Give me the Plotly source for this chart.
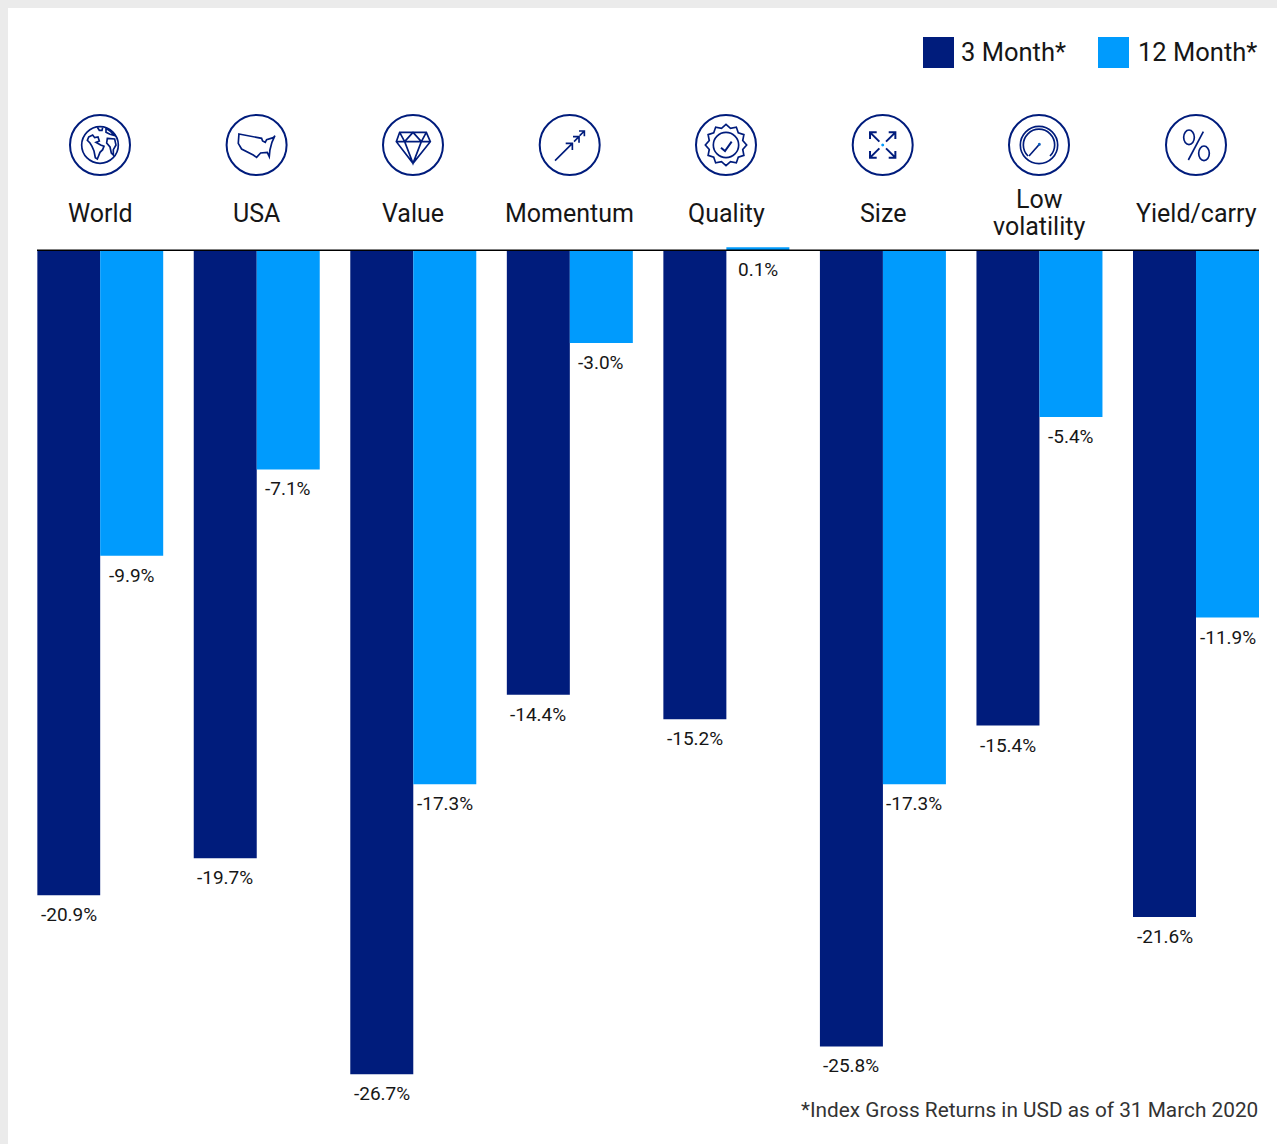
import base64
import math
import plotly.graph_objects as go

categories = ["World", "USA", "Value", "Momentum", "Quality", "Size", "Low volatility", "Yield/carry"]
category_lines = [["World"], ["USA"], ["Value"], ["Momentum"], ["Quality"], ["Size"], ["Low", "volatility"], ["Yield/carry"]]
series_3m = [-20.9, -19.7, -26.7, -14.4, -15.2, -25.8, -15.4, -21.6]
series_12m = [-9.9, -7.1, -17.3, -3.0, 0.1, -17.3, -5.4, -11.9]
series_names = ["3 Month*", "12 Month*"]
footnote = "*Index Gross Returns in USD as of 31 March 2020"

W, H = 1277, 1144
NAVY, BLUE = "#001c7c", "#009bfd"
INK = "#161616"
FONT = "Roboto"
px = lambda x: x / W
py = lambda y: 1 - y / H

# Plot rectangle in pixels, and the value scale that the reference uses.
L, R, TOP = 37.2, 1259.0, 100
ZERO_Y, PX_PER_UNIT = 250.3, 30.86
y_range = [-(H - ZERO_Y) / PX_PER_UNIT, (ZERO_Y - TOP) / PX_PER_UNIT]
BAR_PX = 63

scallop = []
for k in range(24):
    r = 62 if k % 2 == 0 else 52
    a = math.pi * k / 12
    scallop.append(f"{r * math.sin(a):.1f},{-r * math.cos(a):.1f}")
scallop_path = "M" + " L".join(scallop) + " Z"

icons = [
    # World
    '<circle r="55"/><path d="M-34,-24 L-22,-30 L-16,-22 L-6,-24 L-2,-12 L-12,-8 L2,0 L12,4 L8,14 L0,22 L-8,42 L-14,38 L-18,18 L-24,4 L-30,-6 L-38,-14 Z"/>'
    '<path d="M-8,-53 L-2,-44 L6,-44 L8,-52 M18,-50 L30,-42 L44,-28 L30,-32 L18,-38 Z M22,-20 L44,-18 L48,0 L40,14 L40,30 L34,24 L30,6 L20,-6 Z"/>',
    # USA
    '<path d="M-53,-33 L15,-20 L18,-12 L26,-8 L30,-16 L50,-22 L55,-28 L46,-8 L40,15 L38,35 L32,22 L12,24 L0,37 L-10,30 L-45,12 L-55,-5 Z"/>',
    # Value
    '<path d="M-40,-38 L40,-38 L52,-10 L0,55 L-50,-10 Z M-50,-10 L52,-10 M-40,-38 L-25,-10 L0,-38 L25,-10 L40,-38 M-25,-10 L0,55 L25,-10"/>',
    # Momentum
    '<path d="M-44,47 L8,-5 M-12,-5 L8,-5 L8,15 M13,-10 L28,-25 M10,-25 L28,-25 L28,-7 M30,-28 L44,-42 M28,-42 L44,-42 L44,-26"/>',
    # Quality
    f'<path d="{scallop_path}"/><circle r="38"/><path d="M-15,8 L-3,18 L17,-10" stroke-width="6"/>',
    # Size
    '<g stroke-width="6"><path d="M-10,-10 L-38,-38 M-38,-18 L-38,-38 L-18,-38 M10,-10 L38,-38 M18,-38 L38,-38 L38,-18 '
    'M-10,10 L-38,38 M-38,18 L-38,38 L-18,38 M10,10 L38,38 M18,38 L38,38 L38,18"/></g><circle r="2" fill="#009bfd" stroke="#009bfd"/>',
    # Low volatility
    '<circle r="56"/><path d="M-33,33 A47,47 0 1 1 33,33"/><path d="M-30,33 L2,-3"/><circle cx="1" cy="-2" r="2" fill="#0a5fc0" stroke="#0a5fc0"/>',
    # Yield/carry
    '<ellipse cx="-21" cy="-23" rx="16" ry="22"/><ellipse cx="24" cy="25" rx="16" ry="22"/><path d="M-23,45 L22,-40"/>',
]

def icon_uri(body):
    svg = (
        '<svg xmlns="http://www.w3.org/2000/svg" width="80" height="80" viewBox="0 0 80 80">'
        f'<g transform="translate(40,40) scale(0.3333)" fill="none" stroke="{NAVY}" stroke-width="5" stroke-linejoin="miter">'
        f'<circle r="90" stroke-width="6"/>{body}</g></svg>'
    )
    return "data:image/svg+xml;base64," + base64.b64encode(svg.encode()).decode()

fig = go.Figure()
fig.add_bar(x=categories, y=series_3m, name=series_names[0], marker_color=NAVY, marker_line_width=0)
fig.add_bar(x=categories, y=series_12m, name=series_names[1], marker_color=BLUE, marker_line_width=0)

annotations = []
for cat, lines in zip(categories, category_lines):
    first = 213 - 27 * (len(lines) - 1) / 2
    for i, line in enumerate(lines):
        annotations.append(dict(x=cat, xref="x", y=py(first + 27 * i), yref="paper", text=line, showarrow=False,
                                xanchor="center", yanchor="middle", font=dict(family=FONT, size=25, color=INK)))

for values, shift in ((series_3m, -BAR_PX / 2), (series_12m, BAR_PX / 2)):
    for cat, v in zip(categories, values):
        # Every label sits just under its bar; the one positive bar keeps its label under the axis.
        annotations.append(dict(x=cat, xref="x", y=min(v, 0), yref="y", text=f"{v:.1f}%", showarrow=False,
                                xshift=shift, yshift=-19.5, xanchor="center", yanchor="middle",
                                font=dict(family=FONT, size=19, color=INK)))

annotations += [
    dict(x=px(961), y=py(52), xref="paper", yref="paper", text=series_names[0], showarrow=False, xanchor="left",
         yanchor="middle", xshift=-2, font=dict(family=FONT, size=25.5, color=INK)),
    dict(x=px(1138), y=py(52), xref="paper", yref="paper", text=series_names[1], showarrow=False, xanchor="left",
         yanchor="middle", xshift=-2, font=dict(family=FONT, size=25.5, color=INK)),
    dict(x=px(1259), y=py(1110), xref="paper", yref="paper", text=footnote, showarrow=False, xanchor="right",
         yanchor="middle", xshift=1, font=dict(family=FONT, size=20.8, color="#333333")),
]

shapes = [
    dict(type="rect", xref="paper", yref="paper", x0=px(8), x1=1, y0=0, y1=py(8), fillcolor="white",
         line_width=0, layer="below"),
    dict(type="rect", xref="paper", yref="paper", x0=px(923), x1=px(954), y0=py(68), y1=py(37), fillcolor=NAVY, line_width=0),
    dict(type="rect", xref="paper", yref="paper", x0=px(1098), x1=px(1129), y0=py(68), y1=py(37), fillcolor=BLUE, line_width=0),
    dict(type="line", xref="paper", yref="y", x0=px(37), x1=px(1259), y0=0, y1=0, line=dict(color="black", width=1.5)),
]

icon_centres = [100, 256.6, 413, 569.7, 726, 882.7, 1039, 1196]
images = [
    dict(source=icon_uri(body), xref="paper", yref="paper", x=px(cx), y=py(145), sizex=80 / W, sizey=80 / H,
         xanchor="center", yanchor="middle", sizing="stretch", layer="above")
    for cx, body in zip(icon_centres, icons)
]

fig.update_layout(
    width=W, height=H, margin=dict(l=0, r=0, t=0, b=0, pad=0, autoexpand=False),
    paper_bgcolor="#ebebeb", plot_bgcolor="rgba(0,0,0,0)", showlegend=False,
    barmode="group", bargap=1 - 2 * BAR_PX / ((R - L) / 7.805), bargroupgap=0,
    xaxis=dict(domain=[px(L), px(R)], type="category", categoryorder="array", categoryarray=categories,
               range=[-0.4024, 7.4024], showticklabels=False, showgrid=False, zeroline=False, ticks="", showline=False),
    yaxis=dict(domain=[0, py(TOP)], range=y_range, visible=False, showgrid=False, zeroline=False),
    annotations=annotations, shapes=shapes, images=images,
    font=dict(family=FONT),
)

fig.write_html("out.html", config=dict(displayModeBar=False),
               post_script="document.body.style.margin='0';document.documentElement.style.overflow='hidden';")
